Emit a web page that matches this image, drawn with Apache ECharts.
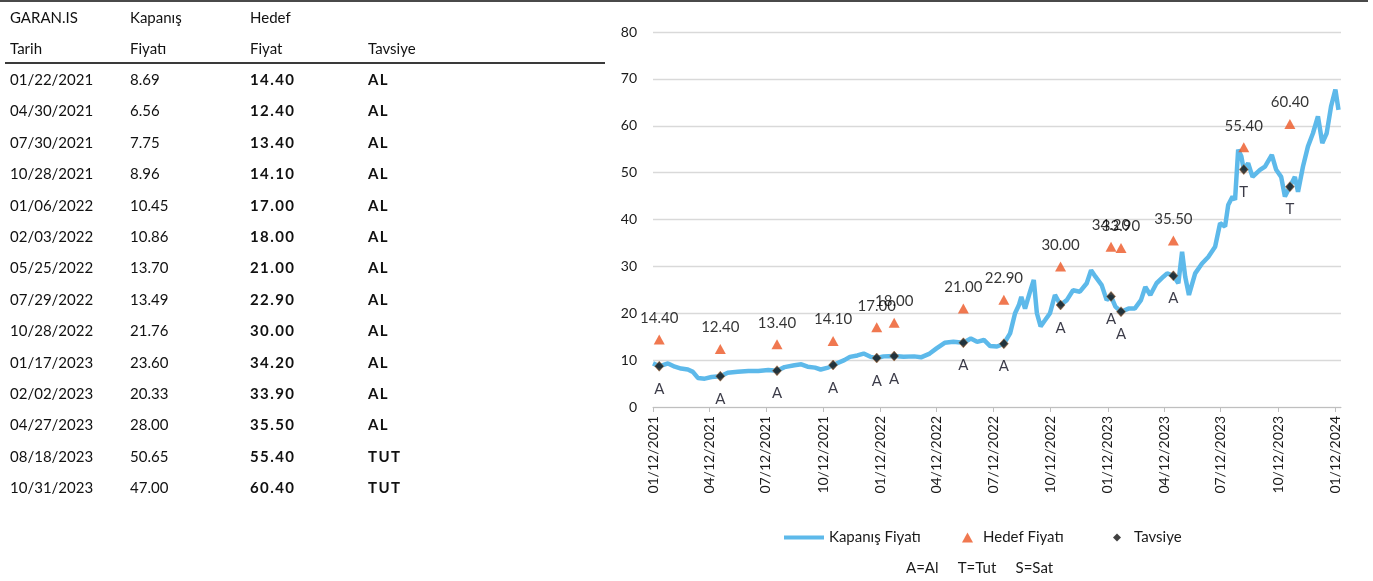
<!DOCTYPE html>
<html>
<head>
<meta charset="utf-8">
<title>GARAN.IS</title>
<script src="https://cdn.jsdelivr.net/npm/echarts@6/dist/echarts.min.js"></script>
<style>
	html, body { margin: 0; padding: 0; background: #fff; }
	body { width: 1373px; height: 581px; position: relative; overflow: hidden; font-family: Lato, "Open Sans", sans-serif; }
	#topRule { position: absolute; left: 0; top: 0; width: 1368px; height: 2px; background: #4a4a4a; }
	#tbl { position: absolute; left: 0; top: 0; width: 620px; height: 581px; color: #111; font-size: 15px; }
	#tbl .c { position: absolute; line-height: 20px; white-space: nowrap; }
	#tbl .b { font-weight: bold; letter-spacing: 1.4px; }
	#hdRule { position: absolute; left: 5px; top: 62px; width: 600px; height: 2px; background: #3a3a3a; }
	#chart { position: absolute; left: 0; top: 0; width: 1373px; height: 581px; }
</style>
</head>
<body>
<div id="chart"></div>
<div id="tbl"><div id="hdRule"></div></div>
<div id="topRule"></div>
<script>
// tavsiye tablosu
var recDates   = ['01/22/2021','04/30/2021','07/30/2021','10/28/2021','01/06/2022','02/03/2022','05/25/2022','07/29/2022','10/28/2022','01/17/2023','02/02/2023','04/27/2023','08/18/2023','10/31/2023'];
var recClose   = [8.69, 6.56, 7.75, 8.96, 10.45, 10.86, 13.70, 13.49, 21.76, 23.60, 20.33, 28.00, 50.65, 47.00];
var recTarget  = [14.40, 12.40, 13.40, 14.10, 17.00, 18.00, 21.00, 22.90, 30.00, 34.20, 33.90, 35.50, 55.40, 60.40];
var recAdvice  = ['AL','AL','AL','AL','AL','AL','AL','AL','AL','AL','AL','AL','TUT','TUT'];

// kapanis fiyati
var priceDates = ['2021-01-12','2021-01-22','2021-02-05','2021-02-16','2021-02-26','2021-03-09','2021-03-17','2021-03-25','2021-04-05','2021-04-16',
	'2021-04-30','2021-05-12','2021-05-28','2021-06-14','2021-06-30','2021-07-16','2021-07-30','2021-08-11','2021-08-27','2021-09-07',
	'2021-09-17','2021-09-29','2021-10-08','2021-10-20','2021-10-28','2021-11-15','2021-11-24','2021-12-06','2021-12-16','2021-12-27',
	'2022-01-06','2022-01-17','2022-02-03','2022-02-18','2022-03-07','2022-03-18','2022-04-01','2022-04-12','2022-04-25','2022-05-09',
	'2022-05-25','2022-06-06','2022-06-16','2022-06-27','2022-07-07','2022-07-18','2022-07-29','2022-08-08','2022-08-16','2022-08-22',
	'2022-08-26','2022-09-01','2022-09-09','2022-09-15','2022-09-20','2022-09-26','2022-10-03','2022-10-11','2022-10-19','2022-10-28',
	'2022-11-07','2022-11-17','2022-11-28','2022-12-09','2022-12-16','2022-12-23','2023-01-02','2023-01-10','2023-01-17','2023-01-24',
	'2023-02-02','2023-02-14','2023-02-24','2023-03-06','2023-03-13','2023-03-21','2023-03-31','2023-04-11','2023-04-17','2023-04-27',
	'2023-05-05','2023-05-11','2023-05-16','2023-05-22','2023-06-01','2023-06-12','2023-06-22','2023-07-03','2023-07-11','2023-07-19',
	'2023-07-24','2023-07-31','2023-08-04','2023-08-09','2023-08-14','2023-08-18','2023-08-25','2023-09-01','2023-09-13','2023-09-21',
	'2023-10-02','2023-10-09','2023-10-17','2023-10-23','2023-10-31','2023-11-08','2023-11-13','2023-11-21','2023-11-29','2023-12-07',
	'2023-12-15','2023-12-22','2023-12-29','2024-01-05','2024-01-12','2024-01-17'];
var priceValues = [9.3, 8.69, 9.3, 8.6, 8.2, 8.0, 7.5, 6.2, 6.05, 6.4,
	6.56, 7.3, 7.5, 7.7, 7.7, 7.9, 7.75, 8.5, 8.9, 9.1,
	8.6, 8.4, 8.0, 8.4, 8.96, 10.0, 10.7, 11.0, 11.4, 10.7,
	10.45, 10.8, 10.86, 10.7, 10.8, 10.6, 11.4, 12.5, 13.7, 13.9,
	13.70, 14.6, 13.9, 14.3, 13.0, 12.9, 13.49, 15.7, 20.0, 21.7,
	23.5, 21.0, 24.6, 27.1, 20.0, 17.2, 18.5, 20.0, 23.9, 21.76,
	22.8, 24.9, 24.6, 26.4, 29.2, 27.8, 26.0, 22.8, 23.60, 21.4,
	20.33, 21.0, 21.0, 22.8, 25.6, 23.9, 26.4, 27.8, 28.5, 28.00,
	26.4, 33.1, 27.8, 23.9, 28.5, 30.6, 32.0, 34.2, 39.2, 38.5,
	43.1, 44.9, 44.2, 54.9, 53.5, 50.65, 52.0, 49.1, 50.6, 51.3,
	53.8, 50.6, 49.1, 44.9, 47.00, 49.1, 45.9, 51.3, 55.6, 58.4,
	62.0, 56.3, 58.4, 64.1, 67.7, 63.4];

// x ekseni: her ceyrek ayin 12'si
var tickDates = ['2021-01-12','2021-04-12','2021-07-12','2021-10-12','2022-01-12','2022-04-12','2022-07-12',
	'2022-10-12','2023-01-12','2023-04-12','2023-07-12','2023-10-12','2024-01-12'];
var xMin = '2021-01-12', xMax = '2024-01-21';
var yMin = 0, yMax = 80, yStep = 10;

var seriesNames = ['Kapanış Fiyatı', 'Hedef Fiyatı', 'Tavsiye'];
var footNote = 'A=Al     T=Tut     S=Sat';

function toTime(s){
	var p = s.split('-');
	return new Date(+p[0], +p[1]-1, +p[2]).getTime();
}
function mdyToTime(s){
	var p = s.split('/');
	return new Date(+p[2], +p[0]-1, +p[1]).getTime();
}
function pad(n){ return (n < 10 ? '0' : '') + n; }

function buildTable(){
	var tbl = document.getElementById('tbl');
	var cols = [10, 130, 250, 368];
	function cell(txt, x, yc, bold){
		var d = document.createElement('div');
		d.className = 'c' + (bold ? ' b' : '');
		d.style.left = x + 'px';
		d.style.top = (yc - 10) + 'px';
		d.textContent = txt;
		tbl.appendChild(d);
	}
	cell('GARAN.IS', cols[0], 17); cell('Kapanış', cols[1], 17); cell('Hedef', cols[2], 17);
	cell('Tarih', cols[0], 48); cell('Fiyatı', cols[1], 48); cell('Fiyat', cols[2], 48); cell('Tavsiye', cols[3], 48);
	for (var i = 0; i < recDates.length; i++){
		var yc = 79 + i * 31.4;
		cell(recDates[i], cols[0], yc);
		cell(recClose[i].toFixed(2), cols[1], yc);
		cell(recTarget[i].toFixed(2), cols[2], yc, true);
		cell(recAdvice[i], cols[3], yc, true);
	}
}

function buildChart(){
	var lineData = [], targetData = [], adviceData = [];
	for (var i = 0; i < priceDates.length; i++) lineData.push([toTime(priceDates[i]), priceValues[i]]);
	for (var j = 0; j < recDates.length; j++){
		targetData.push([mdyToTime(recDates[j]), recTarget[j]]);
		adviceData.push({value: [mdyToTime(recDates[j]), recClose[j]], code: recAdvice[j].charAt(0)});
	}
	var ticks = tickDates.map(toTime);
	var txt = '#1a1a1a', font = 'Lato, "Open Sans", sans-serif';
	var legText = {fontSize: 15, color: txt, fontFamily: font};

	var option = {
		animation: false,
		textStyle: {fontFamily: font, color: txt},
		grid: {left: 653, right: 32, top: 32, bottom: 174, containLabel: false},
		xAxis: {
			// tarih ekseni: zaman damgasi ile value eksen (ceyrek tikleri elle)
			type: 'value',
			min: toTime(xMin),
			max: toTime(xMax),
			splitLine: {show: false},
			axisLine: {lineStyle: {color: '#bfbfbf', width: 1}},
			axisTick: {show: true, length: 5, customValues: ticks, lineStyle: {color: '#bfbfbf'}},
			axisLabel: {
				customValues: ticks,
				rotate: 90,
				margin: 9,
				fontSize: 14,
				color: txt,
				fontFamily: font,
				formatter: function(v){
					var d = new Date(v);
					return pad(d.getMonth()+1) + '/' + pad(d.getDate()) + '/' + d.getFullYear();
				}
			}
		},
		yAxis: {
			type: 'value',
			min: yMin, max: yMax, interval: yStep,
			axisLine: {show: false},
			axisTick: {show: false},
			splitLine: {lineStyle: {color: '#d9d9d9', width: 1.3}},
			axisLabel: {fontSize: 14, color: txt, margin: 16, fontFamily: font}
		},
		legend: [
			{data: [{name: seriesNames[0], icon: 'rect'}], left: 779, top: 525, itemWidth: 40, itemHeight: 4,
				itemStyle: {color: '#5db9ea'}, textStyle: legText},
			{data: [seriesNames[1]], left: 957, top: 525, itemWidth: 11, itemHeight: 10,
				textStyle: {fontSize: 15, color: txt, fontFamily: font, padding: [0, 0, 0, 5]}},
			{data: [seriesNames[2]], left: 1108, top: 525, itemWidth: 8, itemHeight: 8,
				itemStyle: {borderWidth: 0}, textStyle: {fontSize: 15, color: txt, fontFamily: font, padding: [0, 0, 0, 8]}}
		],
		graphic: [{
			type: 'text', left: 906, top: 561,
			style: {text: footNote, font: '15px ' + font, fill: txt}
		}],
		series: [
			{
				name: seriesNames[0],
				type: 'line',
				data: lineData,
				symbol: 'none',
				lineStyle: {color: '#5db9ea', width: 4.5},
				itemStyle: {color: '#5db9ea'},
				z: 2
			},
			{
				name: seriesNames[1],
				type: 'scatter',
				data: targetData,
				symbol: 'triangle',
				symbolSize: [11, 10],
				itemStyle: {color: '#ec5624'},
				label: {
					show: true, position: 'top', distance: 9,
					fontSize: 15, color: '#000', fontFamily: font,
					formatter: function(p){ return p.value[1].toFixed(2); }
				},
				z: 3
			},
			{
				name: seriesNames[2],
				type: 'scatter',
				data: adviceData,
				symbol: 'diamond',
				symbolSize: [9, 10],
				itemStyle: {color: '#111', borderColor: '#b06a2c', borderWidth: 0.6},
				label: {
					show: true, position: 'bottom', distance: 10,
					fontSize: 15, color: '#0a0a1a', fontFamily: font,
					formatter: function(p){ return p.data.code; }
				},
				z: 4
			}
		]
	};
	var myChart = echarts.init(document.getElementById('chart'));
	myChart.setOption(option);
}

buildTable();
buildChart();
</script>
</body>
</html>
